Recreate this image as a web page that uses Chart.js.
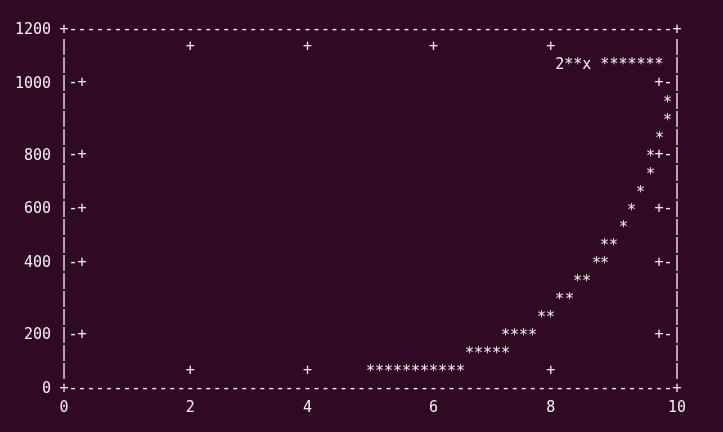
<!DOCTYPE html>
<html>
<head>
<meta charset="utf-8">
<script src="https://cdn.jsdelivr.net/npm/chart.js@4.4.1/dist/chart.umd.min.js"></script>
<style>
  html, body { margin: 0; padding: 0; background: #300a24; }
  canvas { display: block; }
</style>
</head>
<body>
<canvas id="termChart" width="723" height="432"></canvas>
<script>
const seriesLabel = "2**x";
// asterisk cells (x, y)
const starX = [5.00, 5.15, 5.29, 5.44, 5.59, 5.74, 5.88, 6.03, 6.18, 6.32, 6.47,
               6.62, 6.76, 6.91, 7.06, 7.21,
               7.21, 7.35, 7.50, 7.65,
               7.79, 7.94,
               8.09, 8.24,
               8.38, 8.53,
               8.68, 8.82,
               8.82, 8.97,
               9.12, 9.26, 9.41, 9.56, 9.56, 9.71, 9.85, 9.85];
const starY = [60, 60, 60, 60, 60, 60, 60, 60, 60, 60, 60,
               120, 120, 120, 120, 120,
               180, 180, 180, 180,
               240, 240,
               300, 300,
               360, 360,
               420, 420,
               480, 480,
               540, 600, 660, 720, 780, 840, 900, 960];
const xTickLabels = [0, 2, 4, 6, 8, 10];
const yTickLabels = [0, 200, 400, 600, 800, 1000, 1200];

const COLS = 68, ROWS = 20; // character grid of the dumb terminal plot
const FG = "#f2f2f2";
const BG = "#300a24";
const FAMILY = "'DejaVu Sans Mono', 'Liberation Mono', monospace";
const FONT = "15px " + FAMILY;
const BASE_OFF = 5.5; // baseline below row centre

const snapX = (v) => Math.round(v / 10 * COLS) * 10 / COLS;
const snapY = (v) => Math.round(v / 1200 * ROWS) * 1200 / ROWS;

// one terminal cell with an asterisk, used as point style
function makeStar() {
  const c = document.createElement("canvas");
  c.width = 9;
  c.height = 18;
  const g = c.getContext("2d");
  g.fillStyle = BG;
  g.fillRect(0, 0, 9, 18);
  g.fillStyle = FG;
  g.font = FONT;
  g.textAlign = "center";
  g.textBaseline = "alphabetic";
  const m = g.measureText("*");
  const base = 7.7 + (m.actualBoundingBoxAscent - m.actualBoundingBoxDescent) / 2;
  g.fillText("*", 4.5, base);
  return c;
}

function colX(area, c) {
  return area.left + c * (area.right - area.left) / COLS;
}
function rowY(area, r) {
  return area.bottom - r * (area.bottom - area.top) / ROWS;
}
function putChar(ctx, ch, x, y) {
  ctx.fillText(ch, x, y + BASE_OFF);
}

const terminalFrame = {
  id: "terminalFrame",
  beforeDraw(chart) {
    const ctx = chart.ctx;
    ctx.save();
    ctx.fillStyle = BG;
    ctx.fillRect(0, 0, chart.width, chart.height);
    ctx.restore();
  },
  beforeDatasetsDraw(chart) {
    const ctx = chart.ctx;
    const a = chart.chartArea;
    const xs = chart.scales.x, ys = chart.scales.y;
    ctx.save();
    ctx.font = FONT;
    ctx.fillStyle = FG;
    ctx.textAlign = "center";
    ctx.textBaseline = "alphabetic";
    xs.ticks.forEach((t) => {
      if (t.value <= xs.min || t.value >= xs.max) return;
      const x = xs.getPixelForValue(t.value);
      putChar(ctx, "+", x, rowY(a, 1));
      putChar(ctx, "+", x, rowY(a, ROWS - 1));
    });
    ys.ticks.forEach((t) => {
      if (t.value <= ys.min || t.value >= ys.max) return;
      const y = ys.getPixelForValue(t.value);
      putChar(ctx, "-", colX(a, 1), y);
      putChar(ctx, "+", colX(a, 2), y);
      putChar(ctx, "+", colX(a, COLS - 2), y);
      putChar(ctx, "-", colX(a, COLS - 1), y);
    });
    ctx.restore();
    ctx.imageSmoothingEnabled = false;
  },
  afterDatasetsDraw(chart) {
    const ctx = chart.ctx;
    const a = chart.chartArea;
    ctx.imageSmoothingEnabled = true;
    ctx.save();
    ctx.font = FONT;
    ctx.fillStyle = FG;
    ctx.textAlign = "center";
    ctx.textBaseline = "alphabetic";
    // key
    const key = seriesLabel + " *******";
    for (let i = 0; i < key.length; i++) {
      if (key[i] !== " ") putChar(ctx, key[i], colX(a, 55 + i), rowY(a, ROWS - 2));
    }
    // border, drawn in front
    for (let c = 1; c < COLS; c++) {
      putChar(ctx, "-", colX(a, c), rowY(a, 0));
      putChar(ctx, "-", colX(a, c), rowY(a, ROWS));
    }
    for (let r = 1; r < ROWS; r++) {
      putChar(ctx, "|", colX(a, 0), rowY(a, r));
      putChar(ctx, "|", colX(a, COLS), rowY(a, r));
    }
    [0, COLS].forEach((c) => {
      putChar(ctx, "+", colX(a, c), rowY(a, 0));
      putChar(ctx, "+", colX(a, c), rowY(a, ROWS));
    });
    ctx.restore();
  }
};

const starCell = makeStar();

new Chart(document.getElementById("termChart"), {
  type: "scatter",
  data: {
    datasets: [{
      label: seriesLabel,
      data: starX.map((x, i) => ({ x: x, y: starY[i] })),
      pointStyle: starCell,
      pointRadius: 5,
      showLine: false
    }]
  },
  options: {
    responsive: false,
    animation: false,
    devicePixelRatio: 1,
    events: [],
    layout: { padding: { top: 28, right: 46, left: 0, bottom: 0 } },
    plugins: {
      legend: { display: false },
      tooltip: { enabled: false }
    },
    scales: {
      x: {
        type: "linear",
        min: 0,
        max: 10,
        afterFit: (s) => { s.height = 45; },
        afterBuildTicks: (s) => { s.ticks = xTickLabels.map((v) => ({ value: snapX(v) })); },
        ticks: {
          callback: (v, i) => String(xTickLabels[i]),
          font: { family: FAMILY, size: 15 },
          color: FG,
          padding: 12,
          maxRotation: 0,
          autoSkip: false
        },
        grid: { display: false, drawTicks: false },
        border: { display: false }
      },
      y: {
        type: "linear",
        min: 0,
        max: 1200,
        afterFit: (s) => { s.width = 64; },
        afterBuildTicks: (s) => { s.ticks = yTickLabels.map((v) => ({ value: snapY(v) })); },
        ticks: {
          // empty first line nudges the label 2px down, like the terminal row
          callback: (v, i) => ["", String(yTickLabels[i])],
          font: { family: FAMILY, size: 15, lineHeight: "4px" },
          color: FG,
          padding: 13,
          autoSkip: false
        },
        grid: { display: false, drawTicks: false },
        border: { display: false }
      }
    }
  },
  plugins: [terminalFrame]
});
</script>
</body>
</html>
